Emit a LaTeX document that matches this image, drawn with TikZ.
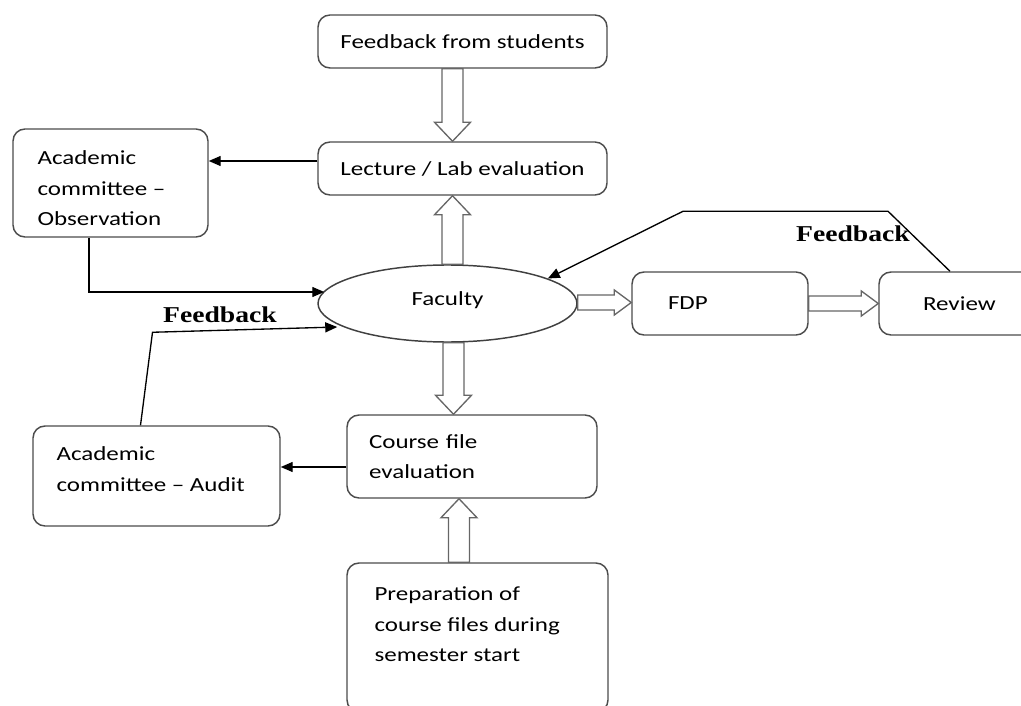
\documentclass[tikz,border=0pt]{standalone}
\usepackage{fontspec}
\setmainfont{Carlito}[FakeStretch=1.25]
\newfontfamily\fbfont{Liberation Serif}[FakeStretch=1.22]
\usetikzlibrary{arrows.meta,calc,shapes.geometric}
\newdimen\px \px=0.75pt
\begin{document}
\begin{tikzpicture}[x=0.75pt,y=-0.75pt,
  font=\fontsize{15}{23}\selectfont,
  box/.style={draw=black!70, line width=1.1pt, rounded corners=9pt, inner ysep=0pt},
  lbox/.style={box, align=left},
  txt/.style={align=left, anchor=north west, inner sep=0pt},
  arr/.style={draw=black, line width=1pt, -{Triangle[length=9pt,width=7.5pt]}},
  fb/.style={font=\fbfont\bfseries\fontsize{17}{20}\selectfont, inner sep=0pt},
  blk/.style n args={3}{draw=black!60, line width=1pt,
    to path={let \p1=(\tikztostart), \p2=(\tikztotarget),
      \n1={atan2(\y2-\y1,\x2-\x1)}, \n2={veclen(\x2-\x1,\y2-\y1)},
      \n3={cos(\n1)}, \n4={sin(\n1)} in
      ({\x1+#1*\n4},{\y1-#1*\n3})
      -- ({\x1+(\n2-#3)*\n3+#1*\n4},{\y1+(\n2-#3)*\n4-#1*\n3})
      -- ({\x1+(\n2-#3)*\n3+#2*\n4},{\y1+(\n2-#3)*\n4-#2*\n3})
      -- (\x2,\y2)
      -- ({\x1+(\n2-#3)*\n3-#2*\n4},{\y1+(\n2-#3)*\n4+#2*\n3})
      -- ({\x1+(\n2-#3)*\n3-#1*\n4},{\y1+(\n2-#3)*\n4+#1*\n3})
      -- ({\x1-#1*\n4},{\y1+#1*\n3}) -- cycle}},
  vblk/.style={blk={7.9pt}{13.5pt}{14.25pt}},
  hblk/.style={blk={5.6pt}{9.4pt}{12.75pt}}
]
\useasboundingbox (0,0) rectangle (1021,706);
\clip (0,0) rectangle (1021,706);

% boxes
\node[box, minimum width=289\px, minimum height=53\px] (fs) at (462.5,41.5) {Feedback from students};
\node[box, minimum width=289\px, minimum height=53\px] (le) at (462.5,168.5) {Lecture / Lab evaluation};
\node[box, minimum width=195\px, minimum height=108\px] (obs) at (110.5,183) {};
\node[txt] (obstxt) at ($(obs.north west)+(25,22)$) {Academic\\committee \textendash\\Observation};
\node[draw=black!75, line width=1.1pt, ellipse, minimum width=259\px, minimum height=77\px, inner sep=0pt] (fac) at (447.5,303.5) {\raisebox{10\px}{Faculty}};
\node[lbox, minimum height=63\px, inner xsep=36\px, text width=104\px] (fdp) at (720,303.5) {FDP};
\node[lbox, minimum height=63\px, inner xsep=44\px, text width=82\px] (rev) at (964,303.5) {Review};
\node[box, minimum width=247\px, minimum height=100\px] (audit) at (156.5,476) {};
\node[txt] (audittxt) at ($(audit.north west)+(24,21)$) {Academic\\committee \textendash{} Audit};
\node[lbox, minimum height=83\px, inner xsep=22\px, text width=206\px] (course) at (472,456.5) {Course file\\evaluation};
\node[box, minimum width=261\px, minimum height=149\px] (prep) at (477.5,637.5) {};
\node[txt] (preptxt) at ($(prep.north west)+(28,24)$) {Preparation of\\course files during\\semester start};

% labels
\node[fb] (fb1) at (220,315) {Feedback};
\node[fb] (fb2) at (853,234) {Feedback};

% block arrows
\draw[vblk] ($(fs.south)+(-10,0)$) to ($(le.north)+(-10,0)$);
\draw[vblk] ($(fac.north)+(5,0)$) to ($(le.south)+(-10,0)$);
\draw[vblk] ($(fac.south)+(6,0)$) to ($(course.north)+(-18.5,0)$);
\draw[vblk] ($(prep.north)+(-18.5,0)$) to ($(course.south)+(-13,0)$);
\draw[hblk] ($(fac.east)+(0,-1)$) to ($(fdp.west)+(0,-1)$);
\draw[hblk] (fdp.east) to (rev.west);

% thin arrows
\draw[arr] ($(le.west)+(0,-7.5)$) -- ($(obs.east)+(0,-22)$);
\draw[arr] ($(obs.south)+(-21.5,0)$) |- ($(fac.west)+(7,-11.5)$);
\draw[arr] ($(audit.north)+(-16,0)$) -- ++(12,-93) -- ($(fac.west)+(20,23.5)$);
\draw[arr] ($(rev.north)+(-14,0)$) -- ++(-62,-60) -- ++(-205,0) -- (fac.14);
\draw[arr] ($(course.west)+(0,10.5)$) -- ($(audit.east)+(0,-9)$);
\end{tikzpicture}
\end{document}
